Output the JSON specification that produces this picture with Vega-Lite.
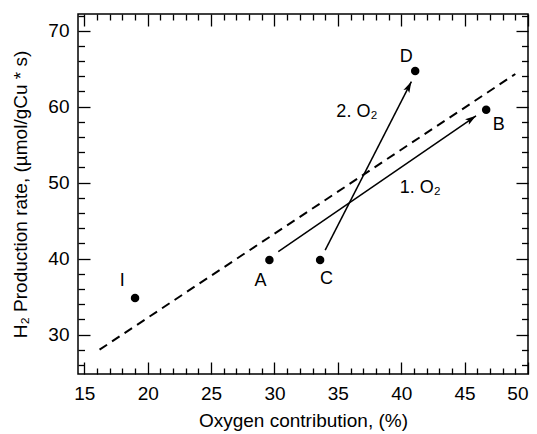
{
  "$schema": "https://vega.github.io/schema/vega-lite/v6.json",
  "width": 450,
  "height": 360,
  "autosize": "none",
  "padding": {"left": 78, "top": 14, "right": 9, "bottom": 60},
  "background": "white",
  "config": {
    "font": "Liberation Sans",
    "view": {"stroke": "#000", "strokeWidth": 1.5},
    "axis": {
      "domain": false,
      "grid": false,
      "tickColor": "#000",
      "tickWidth": 1.3,
      "labelColor": "#000",
      "labelFont": "Liberation Sans",
      "labelFontSize": 19,
      "titleColor": "#000",
      "titleFont": "Liberation Sans",
      "titleFontSize": 19,
      "titleFontWeight": "normal"
    },
    "text": {"font": "Liberation Sans", "fontSize": 19, "color": "#000"}
  },
  "datasets": {
    "fit": [
      {"x": 16.2, "y": 28.0},
      {"x": 49.0, "y": 64.3}
    ],
    "samples": [
      {"name": "I", "x": 19.0, "y": 34.8, "lx": 18.0, "ly": 37.0},
      {"name": "A", "x": 29.6, "y": 39.8, "lx": 28.9, "ly": 37.1},
      {"name": "C", "x": 33.6, "y": 39.8, "lx": 34.1, "ly": 37.3},
      {"name": "D", "x": 41.1, "y": 64.7, "lx": 40.4, "ly": 66.5},
      {"name": "B", "x": 46.7, "y": 59.6, "lx": 47.7, "ly": 57.6}
    ],
    "steps": [
      {"step": "1. O₂", "x0": 30.3, "y0": 40.9, "x1": 45.9, "y1": 58.8, "lx": 41.5, "ly": 49.3},
      {"step": "2. O₂", "x0": 34.0, "y0": 41.1, "x1": 40.8, "y1": 63.3, "lx": 36.5, "ly": 59.3}
    ]
  },
  "resolve": {"axis": {"x": "independent", "y": "independent"}},
  "layer": [
    {
      "data": {"name": "fit"},
      "mark": {"type": "line", "color": "#000", "strokeWidth": 2, "strokeDash": [9, 6]},
      "encoding": {
        "x": {
          "field": "x", "type": "quantitative",
          "scale": {"domain": [14.5, 50], "nice": false, "zero": false},
          "axis": {
            "orient": "bottom", "values": [15, 20, 25, 30, 35, 40, 45, 50],
            "tickSize": -12, "labelPadding": 22,
            "title": "Oxygen contribution, (%)", "titlePadding": 8
          }
        },
        "y": {
          "field": "y", "type": "quantitative",
          "scale": {"domain": [24.8, 72.2], "nice": false, "zero": false},
          "axis": {
            "orient": "left", "values": [30, 40, 50, 60, 70],
            "tickSize": -12, "labelPadding": 21,
            "title": "H₂ Production rate, (µmol/gCu * s)", "titlePadding": 17
          }
        }
      }
    },
    {
      "data": {"name": "samples"},
      "mark": {"type": "point", "shape": "circle", "filled": true, "color": "#000", "size": 72, "opacity": 1},
      "encoding": {
        "x": {
          "field": "x", "type": "quantitative",
          "scale": {"domain": [14.5, 50], "nice": false, "zero": false},
          "axis": {
            "orient": "bottom",
            "values": [16, 17, 18, 19, 21, 22, 23, 24, 26, 27, 28, 29, 31, 32, 33, 34, 36, 37, 38, 39, 41, 42, 43, 44, 46, 47, 48, 49],
            "tickSize": -6, "labels": false, "title": null
          }
        },
        "y": {
          "field": "y", "type": "quantitative",
          "scale": {"domain": [24.8, 72.2], "nice": false, "zero": false},
          "axis": {
            "orient": "left",
            "values": [26, 28, 32, 34, 36, 38, 42, 44, 46, 48, 52, 54, 56, 58, 62, 64, 66, 68, 72],
            "tickSize": -6.5, "labels": false, "title": null
          }
        }
      }
    },
    {
      "data": {"name": "samples"},
      "mark": {"type": "text", "align": "center", "baseline": "middle", "fontSize": 18},
      "encoding": {
        "x": {
          "field": "lx", "type": "quantitative",
          "scale": {"domain": [14.5, 50], "nice": false, "zero": false},
          "axis": {
            "orient": "top", "values": [15, 20, 25, 30, 35, 40, 45, 50],
            "tickSize": -12, "labels": false, "title": null
          }
        },
        "y": {
          "field": "ly", "type": "quantitative",
          "scale": {"domain": [24.8, 72.2], "nice": false, "zero": false},
          "axis": {
            "orient": "right", "values": [30, 40, 50, 60, 70],
            "tickSize": -12, "labels": false, "title": null
          }
        },
        "text": {"field": "name"}
      }
    },
    {
      "data": {"name": "steps"},
      "mark": {"type": "rule", "color": "#000", "strokeWidth": 1.5},
      "encoding": {
        "x": {
          "field": "x0", "type": "quantitative",
          "scale": {"domain": [14.5, 50], "nice": false, "zero": false},
          "axis": {
            "orient": "top",
            "values": [16, 17, 18, 19, 21, 22, 23, 24, 26, 27, 28, 29, 31, 32, 33, 34, 36, 37, 38, 39, 41, 42, 43, 44, 46, 47, 48, 49],
            "tickSize": -6, "labels": false, "title": null
          }
        },
        "y": {
          "field": "y0", "type": "quantitative",
          "scale": {"domain": [24.8, 72.2], "nice": false, "zero": false},
          "axis": {
            "orient": "right",
            "values": [26, 28, 32, 34, 36, 38, 42, 44, 46, 48, 52, 54, 56, 58, 62, 64, 66, 68, 72],
            "tickSize": -6.5, "labels": false, "title": null
          }
        },
        "x2": {"field": "x1"},
        "y2": {"field": "y1"}
      }
    },
    {
      "data": {"name": "steps"},
      "transform": [{"filter": "datum.step === '1. O₂'"}],
      "mark": {
        "type": "point", "filled": true, "color": "#000", "opacity": 1, "size": 484, "angle": 55.5,
        "shape": "M0,0L0.3,1L0,0.78L-0.3,1Z"
      },
      "encoding": {
        "x": {"field": "x1", "type": "quantitative", "scale": {"domain": [14.5, 50], "nice": false, "zero": false}, "axis": null},
        "y": {"field": "y1", "type": "quantitative", "scale": {"domain": [24.8, 72.2], "nice": false, "zero": false}, "axis": null}
      }
    },
    {
      "data": {"name": "steps"},
      "transform": [{"filter": "datum.step === '2. O₂'"}],
      "mark": {
        "type": "point", "filled": true, "color": "#000", "opacity": 1, "size": 484, "angle": 27.1,
        "shape": "M0,0L0.3,1L0,0.78L-0.3,1Z"
      },
      "encoding": {
        "x": {"field": "x1", "type": "quantitative", "scale": {"domain": [14.5, 50], "nice": false, "zero": false}, "axis": null},
        "y": {"field": "y1", "type": "quantitative", "scale": {"domain": [24.8, 72.2], "nice": false, "zero": false}, "axis": null}
      }
    },
    {
      "data": {"name": "steps"},
      "mark": {"type": "text", "align": "center", "baseline": "middle", "fontSize": 18},
      "encoding": {
        "x": {"field": "lx", "type": "quantitative", "scale": {"domain": [14.5, 50], "nice": false, "zero": false}, "axis": null},
        "y": {"field": "ly", "type": "quantitative", "scale": {"domain": [24.8, 72.2], "nice": false, "zero": false}, "axis": null},
        "text": {"field": "step"}
      }
    }
  ]
}
